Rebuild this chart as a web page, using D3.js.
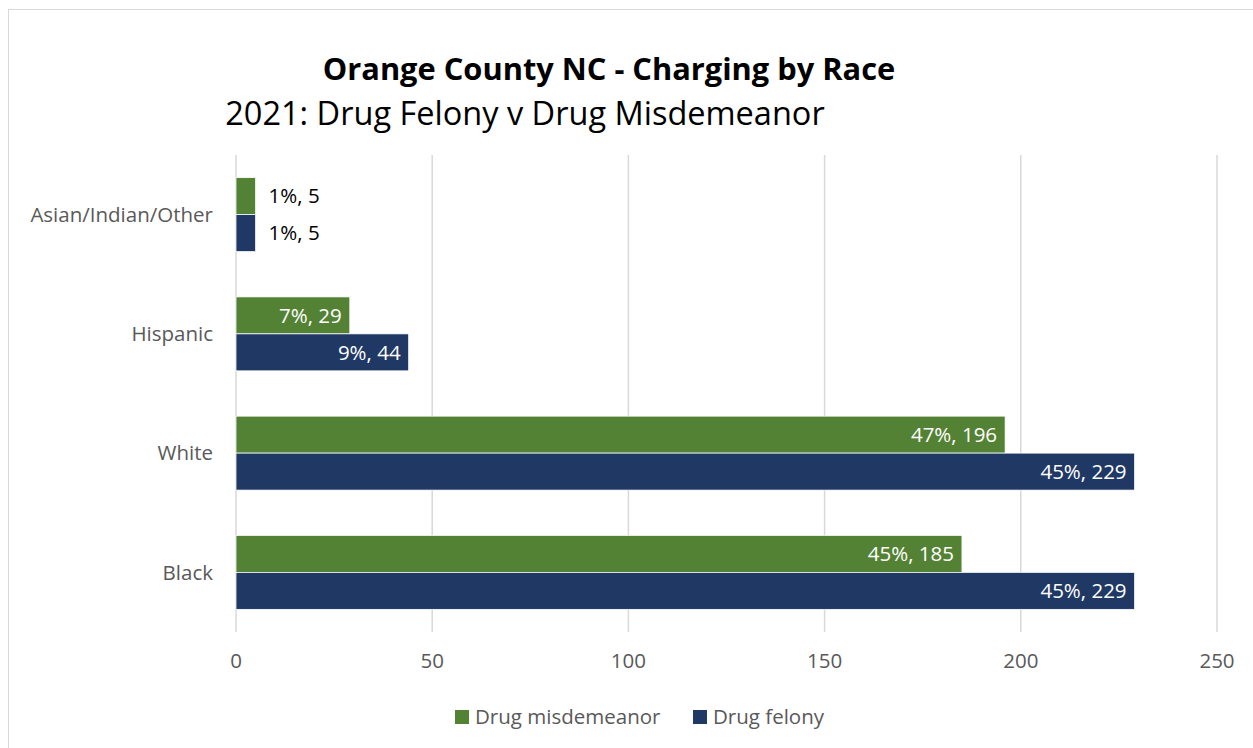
<!DOCTYPE html>
<html>
<head>
<meta charset="utf-8">
<script src="https://cdn.jsdelivr.net/npm/d3@7"></script>
<style>
  body { margin: 0; background: #fff; }
  text { font-family: "Open Sans", "Noto Sans", sans-serif; }
</style>
</head>
<body>
<div id="chart"></div>
<script>
// chart data
const categories = ["Asian/Indian/Other", "Hispanic", "White", "Black"];
const seriesNames = ["Drug misdemeanor", "Drug felony"];
const misdemeanor = [5, 29, 196, 185];
const felony = [5, 44, 229, 229];
const misdemeanorPct = ["1%", "7%", "47%", "45%"];
const felonyPct = ["1%", "9%", "45%", "45%"];
const xTicks = [0, 50, 100, 150, 200, 250];
const colors = ["#548235", "#203864"];

const W = 1253, H = 748;
const fs = 20.5;

const svg = d3.select("#chart").append("svg")
    .attr("width", W)
    .attr("height", H);

// outer chart border
svg.append("rect")
    .attr("x", 8.5).attr("y", 9.5)
    .attr("width", W).attr("height", H)
    .attr("fill", "#fff")
    .attr("stroke", "#d9d9d9");

// scales
const x = d3.scaleLinear().domain([0, 250]).range([236, 1217]);
const y = d3.scaleBand().domain(categories).range([155, 632]).paddingInner(0.38).paddingOuter(0.19);
const sub = d3.scaleBand().domain(seriesNames).range([0, y.bandwidth()]);

// titles
svg.append("text")
    .attr("x", 609).attr("y", 80)
    .attr("text-anchor", "middle")
    .attr("font-size", 30.8)
    .attr("font-weight", "bold")
    .attr("fill", "#000")
    .text("Orange County NC - Charging by Race");

svg.append("text")
    .attr("x", 525).attr("y", 125)
    .attr("text-anchor", "middle")
    .attr("font-size", 32.5)
    .attr("fill", "#000")
    .text("2021: Drug Felony v Drug Misdemeanor");

// gridlines
svg.append("g")
    .selectAll("line")
    .data(xTicks)
    .join("line")
    .attr("x1", d => x(d)).attr("x2", d => x(d))
    .attr("y1", 155).attr("y2", 632)
    .attr("stroke", "#d9d9d9")
    .attr("stroke-width", 1.5);

// x tick labels
svg.append("g")
    .selectAll("text")
    .data(xTicks)
    .join("text")
    .attr("x", d => x(d))
    .attr("y", 668)
    .attr("text-anchor", "middle")
    .attr("font-size", fs)
    .attr("fill", "#595959")
    .text(d => d);

// category labels
svg.append("g")
    .selectAll("text")
    .data(categories)
    .join("text")
    .attr("x", 213)
    .attr("y", d => y(d) + y.bandwidth() / 2)
    .attr("dy", "0.35em")
    .attr("text-anchor", "end")
    .attr("font-size", fs)
    .attr("fill", "#595959")
    .text(d => d);

// build rows for bars
const rows = [];
categories.forEach(function (c, i) {
    rows.push({ cat: c, s: 0, v: misdemeanor[i], pct: misdemeanorPct[i] });
    rows.push({ cat: c, s: 1, v: felony[i], pct: felonyPct[i] });
});

const bars = svg.append("g");
bars.selectAll("rect")
    .data(rows)
    .join("rect")
    .attr("x", x(0))
    .attr("y", d => y(d.cat) + sub(seriesNames[d.s]))
    .attr("width", d => x(d.v) - x(0))
    .attr("height", sub.bandwidth())
    .attr("fill", d => colors[d.s])
    .attr("stroke", "#fff")
    .attr("stroke-width", 0.75);

// data labels: inside end when the bar is wide enough, otherwise outside
bars.selectAll("text")
    .data(rows)
    .join("text")
    .attr("x", function (d) {
        return (x(d.v) - x(0) > 60) ? x(d.v) - 8 : x(d.v) + 13;
    })
    .attr("y", d => y(d.cat) + sub(seriesNames[d.s]) + sub.bandwidth() / 2)
    .attr("dy", "0.35em")
    .attr("text-anchor", d => (x(d.v) - x(0) > 60) ? "end" : "start")
    .attr("font-size", fs)
    .attr("fill", d => (x(d.v) - x(0) > 60) ? "#fff" : "#000")
    .text(d => d.pct + ", " + d.v);

// legend
const legend = svg.append("g");
const legendX = [455, 693];
seriesNames.forEach(function (name, i) {
    legend.append("rect")
        .attr("x", legendX[i]).attr("y", 710)
        .attr("width", 14).attr("height", 14)
        .attr("fill", colors[i]);
    legend.append("text")
        .attr("x", legendX[i] + 20).attr("y", 717)
        .attr("dy", "0.35em")
        .attr("font-size", fs)
        .attr("fill", "#595959")
        .text(name);
});
</script>
</body>
</html>
